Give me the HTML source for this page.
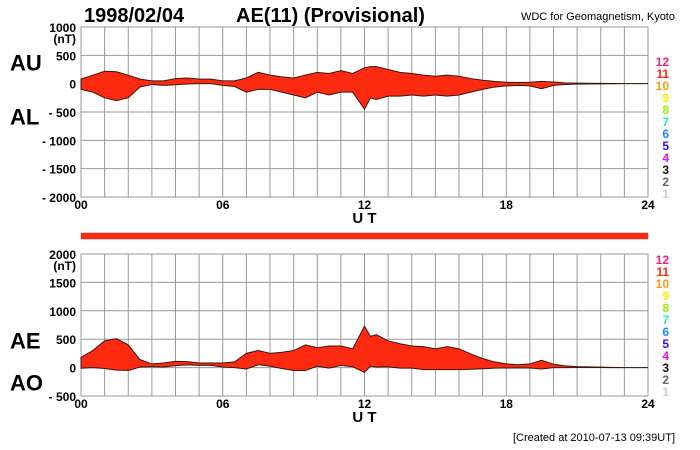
<!DOCTYPE html>
<html><head><meta charset="utf-8"><style>
body{margin:0;background:#fff;}
svg{display:block;font-family:"Liberation Sans",sans-serif;}
</style></head><body>
<svg id="c" width="700" height="450" viewBox="0 0 700 450">
<text x="84" y="22" font-size="20" font-weight="bold">1998/02/04</text>
<text x="236" y="22" font-size="20" font-weight="bold">AE(11) (Provisional)</text>
<text x="675" y="20" font-size="11" text-anchor="end">WDC for Geomagnetism, Kyoto</text>
<text x="675" y="441" font-size="11" text-anchor="end">[Created at 2010-07-13 09:39UT]</text>
<g id="top"></g><g id="bot"></g>
</svg>
<script>
const hours=[0,0.5,1,1.5,2,2.5,3,3.5,4,4.5,5,5.5,6,6.5,7,7.5,8,8.5,9,9.5,10,10.5,11,11.5,12,12.25,12.5,13,13.5,14,14.5,15,15.5,16,16.5,17,17.5,18,18.5,19,19.5,20,20.5,21,21.5,22,22.5,23,23.5,24];
const au=[80,150,220,210,150,80,50,50,90,100,80,80,50,50,100,200,150,120,100,150,200,180,230,180,280,300,300,250,200,180,150,130,150,130,90,60,40,25,20,25,40,30,15,10,8,5,3,0,0,0];
const al=[-100,-150,-250,-300,-250,-60,-15,-30,-20,-5,0,0,-30,-50,-150,-100,-100,-150,-200,-250,-150,-200,-150,-150,-450,-250,-280,-220,-220,-200,-220,-200,-220,-200,-150,-100,-60,-40,-30,-40,-90,-30,-15,-8,-5,-3,-2,0,0,0];
const topTicks=[1000,500,0,-500,-1000,-1500,-2000];
const botTicks=[2000,1500,1000,500,0,-500];
const xTicks=["00","06","12","18","24"];
const legendNums=["12","11","10","9","8","7","6","5","4","3","2","1"];
const legendCols=["#ff1a8c","#ff2a10","#ff9a00","#ffee00","#99ee00","#22eecc","#1a88ff","#2a10ff","#ee10ee","#111","#666","#ccc"];
const ae=au.map((v,i)=>v-al[i]);
const ao=au.map((v,i)=>(v+al[i])/2);
const NS="http://www.w3.org/2000/svg";
const X0=81,X1=648;
const xs=h=>X0+(X1-X0)*h/24;
function mk(tag,attrs,parent,txt){const e=document.createElementNS(NS,tag);for(const k in attrs)e.setAttribute(k,attrs[k]);if(txt!==undefined)e.textContent=txt;parent.appendChild(e);return e;}
function panel(g,yTop,yBot,vMax,vMin,ticks,hi,lo,lab1,lab2,legTop,pfx,off1,off2){
  const ys=v=>yTop+(vMax-v)*(yBot-yTop)/(vMax-vMin);
  const frame=mk('rect',{x:X0,y:yTop,width:X1-X0,height:yBot-yTop,fill:'#fff',stroke:'#999'},g);
  
  
  for(let h=1;h<24;h++){const l=mk('line',{x1:xs(h),x2:xs(h),y1:yTop,y2:yBot,stroke:'#999','stroke-width':1},g);
    }
  ticks.forEach(t=>{
    const l=mk('line',{x1:X0,x2:X1,y1:ys(t),y2:ys(t),stroke:'#999'},g);
    
    const s=t<0?'- '+(-t):String(t);
    const tx=mk('text',{x:76,y:ys(t)+5,'font-size':12,'font-weight':'bold','text-anchor':'end'},g,s);
    
  });
  const u=mk('text',{x:76,y:ys(ticks[0])+16,'font-size':12,'font-weight':'bold','text-anchor':'end'},g,'(nT)');
  
  let pts=hours.map((h,i)=>xs(h)+','+ys(hi[i]));
  for(let i=hours.length-1;i>=0;i--)pts.push(xs(hours[i])+','+ys(lo[i]));
  const poly=mk('polygon',{points:pts.join(' '),fill:'#ff2a10',stroke:'#3a1510','stroke-width':1},g);
  
  xTicks.forEach((t,i)=>{const tx=mk('text',{x:xs(i*6),y:yBot+12,'font-size':12,'font-weight':'bold','text-anchor':'middle'},g,t);
    });
  const ut=mk('text',{x:xs(12),y:yBot+26,'font-size':15,'font-weight':'bold','text-anchor':'middle'},g,'U T');
  
  const a=mk('text',{x:10,y:ys(0)+off1,'font-size':22,'font-weight':'bold'},g,lab1);
  
  const b=mk('text',{x:10,y:ys(0)+off2,'font-size':22,'font-weight':'bold'},g,lab2);
  
  legendNums.forEach((n,i)=>{const tx=mk('text',{x:669,y:legTop+i*12+5,'font-size':12,'font-weight':'bold','text-anchor':'end',fill:legendCols[i]},g,n);
    });
}
panel(document.getElementById('top'),27,197,1000,-2000,topTicks,au,al,'AU','AL',61,'top',-13,41);
panel(document.getElementById('bot'),254,396,2000,-500,botTicks,ae,ao,'AE','AO',259,'bottom',-19,23);
const bar=mk('rect',{x:X0,y:233,width:X1-X0,height:6,fill:'#ff2a10',stroke:'#c83020','stroke-width':0.5},document.getElementById('bot'));


</script>
</body></html>
